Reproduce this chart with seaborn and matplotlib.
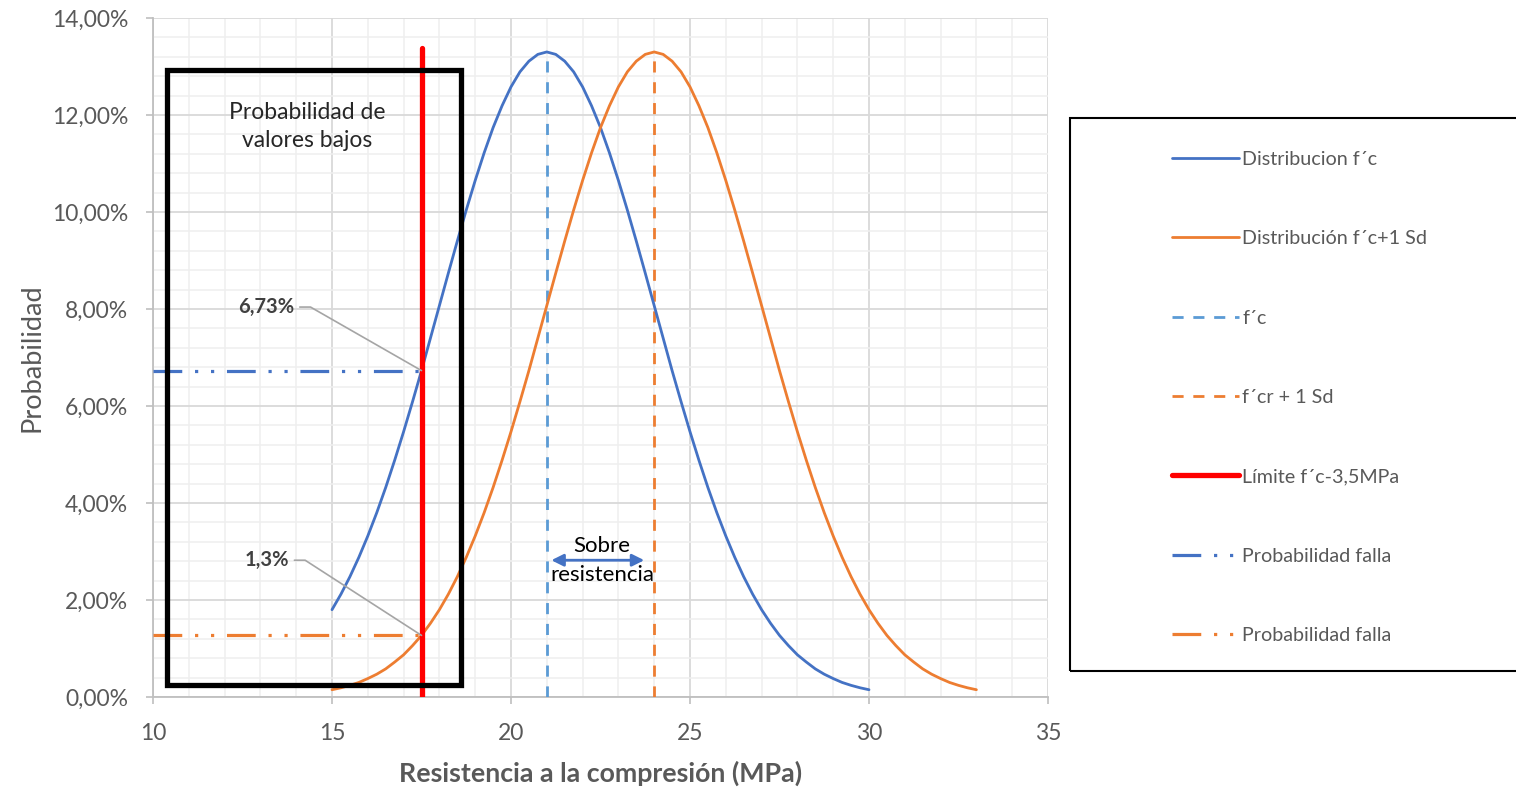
import numpy as np
import pandas as pd
import matplotlib
matplotlib.use("Agg")
import matplotlib.pyplot as plt
import seaborn as sns
from matplotlib.patches import Rectangle
from matplotlib.ticker import FuncFormatter, MultipleLocator

# ---------------- data ----------------
x_fc = np.arange(15, 30.001, 0.25)
p_fc = [0.0180, 0.0212, 0.0248, 0.0288, 0.0332, 0.0380, 0.0432, 0.0488, 0.0547, 0.0609,
        0.0673, 0.0740, 0.0807, 0.0874, 0.0940, 0.1004, 0.1065, 0.1122, 0.1174, 0.1219,
        0.1258, 0.1289, 0.1311, 0.1325, 0.1330, 0.1325, 0.1311, 0.1289, 0.1258, 0.1219,
        0.1174, 0.1122, 0.1065, 0.1004, 0.0940, 0.0874, 0.0807, 0.0740, 0.0673, 0.0609,
        0.0547, 0.0488, 0.0432, 0.0380, 0.0332, 0.0288, 0.0248, 0.0212, 0.0180, 0.0152,
        0.0127, 0.0106, 0.0087, 0.0072, 0.0058, 0.0047, 0.0038, 0.0030, 0.0024, 0.0019,
        0.0015]
x_fcr = np.arange(15, 33.001, 0.25)
p_fcr = [0.0015, 0.0019, 0.0024, 0.0030, 0.0038, 0.0047, 0.0058, 0.0072, 0.0087, 0.0106,
         0.0127, 0.0152, 0.0180, 0.0212, 0.0248, 0.0288, 0.0332, 0.0380, 0.0432, 0.0488,
         0.0547, 0.0609, 0.0673, 0.0740, 0.0807, 0.0874, 0.0940, 0.1004, 0.1065, 0.1122,
         0.1174, 0.1219, 0.1258, 0.1289, 0.1311, 0.1325, 0.1330, 0.1325, 0.1311, 0.1289,
         0.1258, 0.1219, 0.1174, 0.1122, 0.1065, 0.1004, 0.0940, 0.0874, 0.0807, 0.0740,
         0.0673, 0.0609, 0.0547, 0.0488, 0.0432, 0.0380, 0.0332, 0.0288, 0.0248, 0.0212,
         0.0180, 0.0152, 0.0127, 0.0106, 0.0087, 0.0072, 0.0058, 0.0047, 0.0038, 0.0030,
         0.0024, 0.0019, 0.0015]
fc_value = 21
fcr_value = 24
peak_value = 0.1330
limit_value = 17.5
limit_top = 0.1338
prob_fc = 0.0673
prob_fcr = 0.0127
label_prob_fc = "6,73%"
label_prob_fcr = "1,3%"
low_box = (10.4, 0.0025, 18.6, 0.1293)  # x0, y0, x1, y1
legend_labels = ["Distribucion f´c", "Distribución f´c+1 Sd", "f´c", "f´cr + 1 Sd",
                 "Límite f´c-3,5MPa", "Probabilidad falla", "Probabilidad falla"]

# ---------------- style ----------------
sns.set_theme(style="white")
plt.rcParams['font.family'] = ['Lato', 'DejaVu Sans']

BLUE = "#4472C4"
ORANGE = "#ED7D31"
LBLUE = "#5B9BD5"
RED = "#FF0000"
GREY_TXT = "#595959"

fig = plt.figure(figsize=(15.16, 7.87), dpi=100)
ax = fig.add_axes([153/1516, 1-697/787, (1048-153)/1516, (697-18)/787])

df1 = pd.DataFrame({"x": x_fc, "p": p_fc})
df2 = pd.DataFrame({"x": x_fcr, "p": p_fcr})
sns.lineplot(data=df1, x="x", y="p", ax=ax, color=BLUE, lw=2.0, label=legend_labels[0], zorder=4)
sns.lineplot(data=df2, x="x", y="p", ax=ax, color=ORANGE, lw=2.0, label=legend_labels[1], zorder=4)
h_fc, = ax.plot([fc_value, fc_value], [0, peak_value], color=LBLUE, lw=2.0, dashes=(4, 3.5), zorder=3)
h_fcr, = ax.plot([fcr_value, fcr_value], [0, peak_value], color=ORANGE, lw=2.0, dashes=(4, 3.5), zorder=3)
h_lim, = ax.plot([limit_value, limit_value], [0, limit_top], color=RED, lw=3.8, zorder=5,
                 solid_capstyle='round')
h_pf1, = ax.plot([10, limit_value], [prob_fc, prob_fc], color=BLUE, lw=2.3,
                 dashes=(9, 4, 1, 4, 1, 4), zorder=3)
h_pf2, = ax.plot([10, limit_value], [prob_fcr, prob_fcr], color=ORANGE, lw=2.3,
                 dashes=(9, 4, 1, 4, 1, 4), zorder=3)
if ax.get_legend():
    ax.get_legend().remove()

# low-value box
bx0, by0, bx1, by1 = low_box
ax.add_patch(Rectangle((bx0, by0), bx1 - bx0, by1 - by0, fill=False, ec="black", lw=3.8, zorder=6))
ax.text((bx0 + bx1) / 2 - 0.2, 0.1176, "Probabilidad de\nvalores bajos", ha="center", va="center",
        fontsize=16.5, color="#262626", linespacing=1.42, zorder=7)

# data labels with leader lines
ax.plot([14.1, 14.4, limit_value], [0.0804, 0.0804, prob_fc], color="#A5A5A5", lw=1.2, zorder=6)
ax.text(13.95, 0.0804, label_prob_fc, ha="right", va="center", fontsize=14.5,
        fontweight="bold", color="#404040", zorder=7)
ax.plot([13.95, 14.25, limit_value], [0.0282, 0.0282, prob_fcr], color="#A5A5A5", lw=1.2, zorder=6)
ax.text(13.8, 0.0282, label_prob_fcr, ha="right", va="center", fontsize=14.5,
        fontweight="bold", color="#404040", zorder=7)

# over-strength arrow
ax.annotate("", xy=(fc_value + 0.05, 0.0282), xytext=(fcr_value - 0.2, 0.0282),
            arrowprops=dict(arrowstyle="<|-|>", color=BLUE, lw=2, mutation_scale=18), zorder=7)
ax.text(22.55, 0.0312, "Sobre", ha="center", va="center", fontsize=16, color="black", zorder=7)
ax.text(22.55, 0.0252, "resistencia", ha="center", va="center", fontsize=16, color="black", zorder=7)

# axes
ax.set_xlim(10, 35)
ax.set_ylim(0, 0.14)
ax.xaxis.set_major_locator(MultipleLocator(5))
ax.xaxis.set_minor_locator(MultipleLocator(1))
ax.yaxis.set_major_locator(MultipleLocator(0.02))
ax.yaxis.set_minor_locator(MultipleLocator(0.004))
ax.yaxis.set_major_formatter(FuncFormatter(lambda v, p: f"{v*100:.2f}%".replace(".", ",")))
ax.grid(which="major", color="#D9D9D9", lw=1.3)
ax.grid(which="minor", color="#EFEFEF", lw=1.1)
ax.set_axisbelow(True)
for s in ["top", "right"]:
    ax.spines[s].set_visible(False)
for s in ["left", "bottom"]:
    ax.spines[s].set_color("#BFBFBF")
    ax.spines[s].set_linewidth(1.3)
ax.tick_params(which="major", direction="out", length=5, color="#BFBFBF", width=1.2,
               labelsize=16.5, labelcolor=GREY_TXT, left=True, bottom=True)
ax.tick_params(which="minor", length=0)
ax.tick_params(axis="x", pad=14)
ax.tick_params(axis="y", pad=13)
ax.set_xlabel("Resistencia a la compresión (MPa)", fontsize=19.3, fontweight="bold",
              color=GREY_TXT, labelpad=12)
ax.set_ylabel("Probabilidad", fontsize=19.5, color=GREY_TXT, labelpad=5)

# legend
lines = ax.get_lines()
handles = [lines[0], lines[1], h_fc, h_fcr, h_lim, h_pf1, h_pf2]
fig.add_artist(Rectangle((1070/1516, 1-671/787), 0.4, (671-118)/787, transform=fig.transFigure,
                         fill=False, ec="black", lw=1.5, clip_on=False))
leg = fig.legend(handles, legend_labels, loc="upper left", bbox_to_anchor=(1172/1516, 1-151/787),
                 frameon=False, handlelength=3.4, handletextpad=0.15, labelspacing=3.16,
                 borderpad=0, borderaxespad=0, fontsize=14.2)
for t in leg.get_texts():
    t.set_color(GREY_TXT)

fig.savefig("out.png", dpi=100)
